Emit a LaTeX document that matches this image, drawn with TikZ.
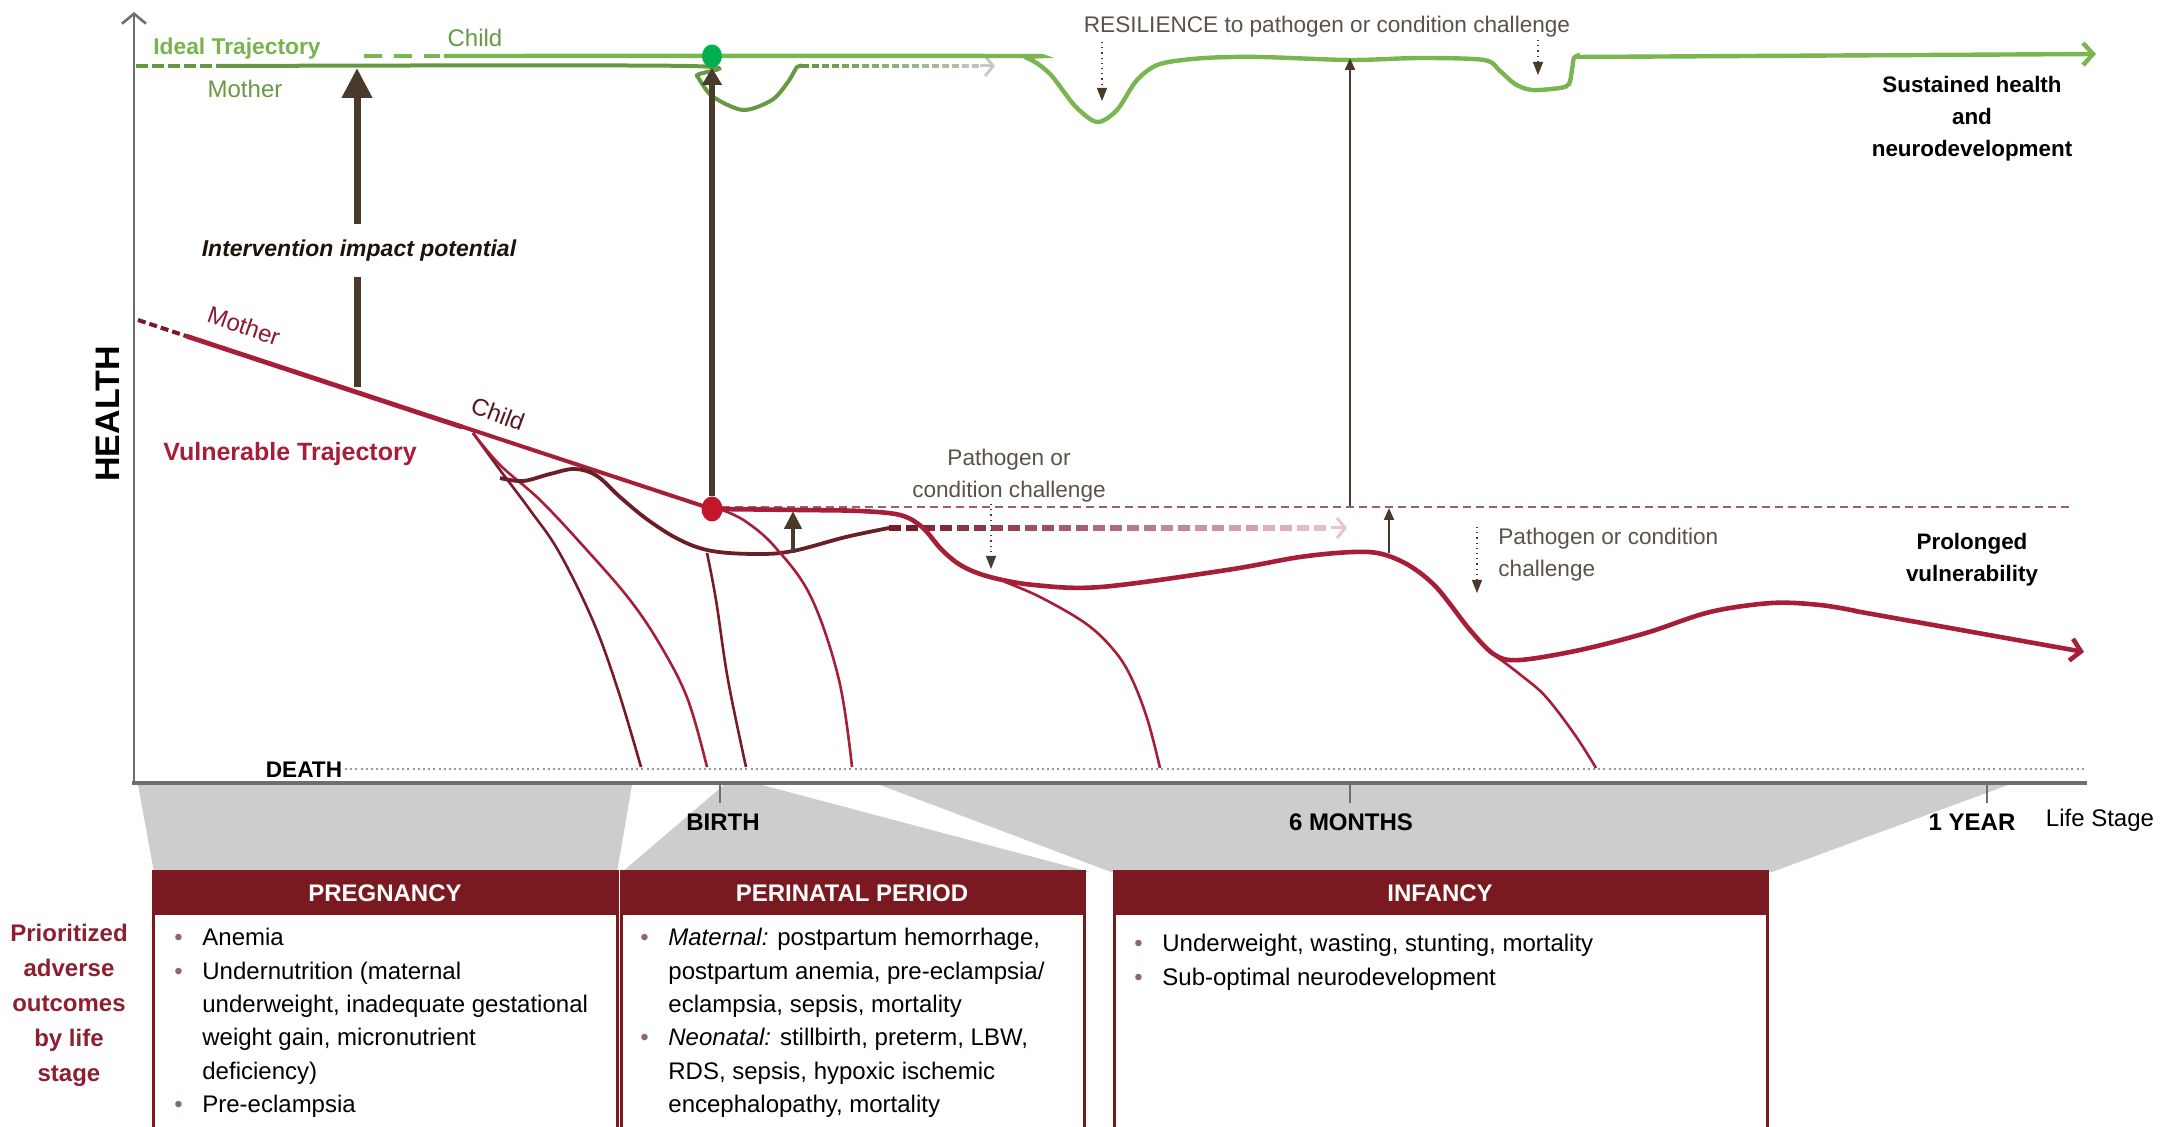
\documentclass[tikz,border=0pt]{standalone}
\usepackage{fontspec}
\setmainfont{Liberation Sans}
\usetikzlibrary{arrows.meta,shapes.geometric}
\definecolor{ideal}{HTML}{7AB551}
\definecolor{idealm}{HTML}{659A43}
\definecolor{idealtxt}{HTML}{78B34E}
\definecolor{vuln}{HTML}{A61E38}
\definecolor{vulndark}{HTML}{7A1A28}
\definecolor{wavy}{HTML}{6A1E28}
\definecolor{hdr}{HTML}{7A1A20}
\definecolor{arrowbrown}{HTML}{4A3A2C}
\definecolor{annot}{HTML}{5A5248}
\definecolor{funnel}{HTML}{CDCDCD}
\definecolor{axisgray}{HTML}{6E6E6E}
\definecolor{mauve}{HTML}{9E5E6A}
\definecolor{labelred}{HTML}{8C1F30}
\definecolor{greendot}{HTML}{00B050}
\definecolor{reddot}{HTML}{C4172C}
\definecolor{fadepink}{HTML}{EDC3CA}
\definecolor{fadegray}{HTML}{C8C8C8}
\definecolor{bulletc}{HTML}{8A6A6A}
\newcommand{\bul}{\makebox[14pt][l]{\textcolor{bulletc}{•}}}
\newcommand{\ind}{\hspace*{14pt}}
\begin{document}
\begin{tikzpicture}[x=0.5pt,y=-0.5pt,
  txt/.style={inner sep=0pt, font=\fontsize{12}{14}\selectfont},
  btxt/.style={inner sep=0pt, font=\fontsize{12}{14}\selectfont\bfseries},
  annotxt/.style={inner sep=0pt, text=annot, font=\fontsize{11.3}{16}\selectfont},
  outcome/.style={inner sep=0pt, text=black, font=\fontsize{11.2}{16}\selectfont\bfseries, align=center},
  bodytxt/.style={inner sep=0pt, anchor=north west, font=\fontsize{12}{16.67}\selectfont},
  hdrtxt/.style={inner sep=0pt, text=white, font=\fontsize{12}{14}\selectfont\bfseries},
  stagebox/.style={draw=hdr, line width=1.5pt},
  vline/.style={vuln, line width=1.3pt},
  vbranch/.style={vulndark, line width=1.3pt},
  dotarrow/.style={arrowbrown, line width=0.6pt, dotted, -{Triangle[length=6.5pt,width=5pt]}},
  thinarrow/.style={arrowbrown, line width=1pt, -{Triangle[length=6pt,width=5pt]}},
]
\useasboundingbox (0,0) rectangle (2164,1127);

% ---------- funnels ----------
\fill[funnel] (138,785) -- (632,785) -- (617,872) -- (154,872) -- cycle;
\fill[funnel] (724,785) -- (762,785) -- (1090,872) -- (622,872) -- cycle;
\fill[funnel] (880,785) -- (2008,785) -- (1772,872) -- (1111,872) -- cycle;

% ---------- axes ----------
\draw[axisgray, line width=2pt] (132,783) -- (2087,783);
\draw[axisgray, line width=1.3pt, -{Straight Barb[length=5pt,width=12pt]}] (134,783) -- (134,12);
\foreach \tx in {720,1350,1987} \draw[axisgray, line width=1pt] (\tx,784) -- (\tx,803);
\node[btxt] (birth) at (723,822) {BIRTH};
\node[btxt] (sixm) at (1351,822) {6 MONTHS};
\node[btxt] (oney) at (1972,822) {1 YEAR};
\node[txt] (lifestage) at (2100,820) {Life Stage};
\node[inner sep=0pt, font=\fontsize{17}{20}\selectfont\bfseries, rotate=90] (health) at (108,414) {HEALTH};

% ---------- death line ----------
\node[inner sep=0pt, font=\fontsize{11.3}{14}\selectfont\bfseries] (death) at (304,770) {DEATH};
\draw[black!40, line width=1pt, dash pattern=on 1pt off 1.6pt] (345,769) -- (2084,769);

% ---------- vulnerable trajectory ----------
\draw[vulndark, line width=2pt, dash pattern=on 4pt off 2pt] (138,320) -- (186,336);
\draw[vuln, line width=2.4pt] (186,336) -- (462,427);
\draw[vuln, line width=2pt] (445,421) -- (712,509);
% early branches
\draw[vbranch] plot[smooth, tension=0.6] coordinates {(473,433) (500,470) (530,510) (559,552) (593,621) (618,690) (641,767)};
\draw[vline] plot[smooth, tension=0.6] coordinates {(473,433) (500,465) (540,500) (585,548) (630,600) (662,648) (688,700) (707,767)};
% dark wavy child line
\draw[wavy, line width=1.9pt] plot[smooth, tension=0.6] coordinates {(500,478) (523,481) (550,474) (575,469) (597,476) (620,497) (648,520) (680,540) (712,551) (757,554) (793,551) (846,537) (889,528)};
\draw[vbranch] plot[smooth, tension=0.6] coordinates {(707,553) (716,600) (728,680) (746,767)};
\draw[vline] plot[smooth, tension=0.6] coordinates {(722,510) (745,521) (775,547) (811,597) (839,680) (852,767)};
% thin mauve dashed reference
\draw[mauve, line width=0.9pt, dash pattern=on 4pt off 2.5pt] (722,507) -- (2074,507);
% thick fading dashed
\foreach \i in {0,...,12}{
  \pgfmathtruncatemacro\pct{100-\i*8}
  \draw[line width=2.7pt, dash pattern=on 6pt off 2.5pt, vulndark!\pct!fadepink] (889+\i*34,528) -- ++(34,0);
}
\draw[fadepink, line width=1.5pt, -{Straight Barb[length=4pt,width=10pt]}] (1331,528) -- (1347,528);
% main vulnerable curve
\draw[vuln, line width=2.3pt] plot[smooth, tension=0.55] coordinates {(712,509) (800,510) (860,511) (900,515) (922,527) (942,550) (962,566) (990,577) (1034,585) (1101,587) (1227,570) (1300,557) (1353,552) (1382,554) (1410,566) (1437,588) (1470,630) (1495,655) (1520,660) (1580,650) (1646,633) (1710,612) (1772,603) (1820,605) (1856,611)};
\draw[vuln, line width=2.3pt, -{Straight Barb[length=5pt,width=11pt]}] (1855,611) -- (2084,652);
\draw[vline] plot[smooth, tension=0.6] coordinates {(1005,582) (1040,597) (1085,623) (1112,648) (1130,675) (1147,718) (1160,768)};
\draw[vline] plot[smooth, tension=0.6] coordinates {(1497,657) (1522,676) (1546,697) (1575,735) (1596,768)};

% ---------- ideal trajectory ----------
\draw[idealm, line width=2pt, dash pattern=on 6pt off 2pt] (136,66) -- (218,66);
\draw[idealm, line width=2pt] plot[smooth, tension=0.5] coordinates {(218,66) (688,66) (697,76) (712,96) (743,110) (772,100) (788,82) (797,67) (802,66)};
\foreach \i in {0,...,8}{
  \pgfmathtruncatemacro\pct{100-\i*11}
  \draw[line width=2pt, dash pattern=on 3.5pt off 1.5pt, idealm!\pct!fadegray] (802+\i*20,66) -- ++(20,0);
}
\draw[fadegray, line width=1.5pt, -{Straight Barb[length=4pt,width=10pt]}] (980,66) -- (995,66);
\draw[ideal, line width=2.2pt, dash pattern=on 9pt off 6pt] (364,56) -- (440,56);
\draw[ideal, line width=2.2pt] plot[smooth, tension=0.5] coordinates {(444,56) (1000,56) (1027,58) (1050,74) (1075,106) (1097,122) (1117,110) (1137,80) (1160,64) (1205,58) (1260,57) (1350,60) (1420,58) (1484,60) (1500,71) (1515,84) (1532,90) (1560,88) (1569,84) (1572,70) (1574,58) (1580,55)};
\draw[ideal, line width=2.2pt, -{Straight Barb[length=5pt,width=11pt]}] (1577,57) -- (2096,54);

% ---------- labels on trajectories ----------
\node[inner sep=0pt, text=idealtxt, font=\fontsize{11.4}{14}\selectfont\bfseries] (idealtraj) at (237,49) {Ideal Trajectory};
\node[txt, text=idealm] (gmother) at (245,89) {Mother};
\node[txt, text=idealm] (gchild) at (475,38) {Child};
\node[txt, text=vuln!85!black, rotate=-19] (rmother) at (244,326) {Mother};
\node[txt, text=wavy!80!black, rotate=-20] (rchild) at (498,414) {Child};
\node[inner sep=0pt, text=vuln, font=\fontsize{12.5}{14}\selectfont\bfseries] (vulntraj) at (290,454) {Vulnerable Trajectory};

% ---------- intervention arrows ----------
\coordinate (ivbase) at (357,387);
\coordinate (ivtip) at (357,68);
\draw[arrowbrown, line width=3.5pt, -{Triangle[length=15pt,width=14.5pt]}] (ivbase) -- (ivtip);
\node[fill=white, minimum width=159.5pt, minimum height=26.5pt, inner sep=0pt, text=black!85!brown, font=\fontsize{11.5}{14}\selectfont\bfseries\itshape] (ivlabel) at (359,251) {Intervention impact potential};

\node[fill=greendot, ellipse, minimum width=10pt, minimum height=11.5pt, inner sep=0pt] (gdot) at (712,56) {};
\node[fill=reddot, ellipse, minimum width=10.5pt, minimum height=12.5pt, inner sep=0pt] (rdot) at (712,509) {};
\draw[arrowbrown, line width=3pt, -{Triangle[length=8.5pt,width=9.5pt]}] (rdot) -- (gdot);

\coordinate (smbase) at (793,553);
\coordinate (smtip) at (793,511);
\draw[arrowbrown, line width=2.2pt, -{Triangle[length=9pt,width=8.5pt]}] (smbase) -- (smtip);

\coordinate (sixbase) at (1350,506);
\coordinate (sixtip) at (1350,58);
\draw[thinarrow] (sixbase) -- (sixtip);
\coordinate (s2base) at (1389,553);
\coordinate (s2tip) at (1389,508);
\draw[thinarrow] (s2base) -- (s2tip);

% ---------- challenge annotations ----------
\node[annotxt] (resil) at (1327,27) {RESILIENCE to pathogen or condition challenge};
\coordinate (r1a) at (1102,42); \coordinate (r1b) at (1102,101);
\coordinate (r2a) at (1538,40); \coordinate (r2b) at (1538,75);
\draw[dotarrow] (r1a) -- (r1b);
\draw[dotarrow] (r2a) -- (r2b);
\node[annotxt, align=center] (path1) at (1009,476) {Pathogen or\\condition challenge};
\coordinate (p1a) at (991,504); \coordinate (p1b) at (991,569);
\draw[dotarrow] (p1a) -- (p1b);
\node[annotxt, align=left, anchor=west] (path2) at (1498,555) {Pathogen or condition\\challenge};
\coordinate (p2a) at (1477,527); \coordinate (p2b) at (1477,593);
\draw[dotarrow] (p2a) -- (p2b);

\node[outcome] (sustained) at (1972,119) {Sustained health\\and\\neurodevelopment};
\node[outcome] (prolonged) at (1972,560) {Prolonged\\vulnerability};

% ---------- stage boxes ----------
\fill[hdr] (153,872) rectangle (617,915);
\draw[stagebox] (153,872) rectangle (617,1140);
\fill[hdr] (621,872) rectangle (1084,915);
\draw[stagebox] (621,872) rectangle (1084,1140);
\fill[hdr] (1114,872) rectangle (1767,915);
\draw[stagebox] (1114,872) rectangle (1767,1140);
\node[hdrtxt] (hpreg) at (385,893) {PREGNANCY};
\node[hdrtxt] (hperi) at (852,893) {PERINATAL PERIOD};
\node[hdrtxt] (hinf) at (1440,893) {INFANCY};

\node[bodytxt] (tpreg) at (174,922) {\begin{tabular}{@{}l@{}}
\bul Anemia\\
\bul Undernutrition (maternal\\
\ind underweight, inadequate gestational\\
\ind weight gain, micronutrient\\
\ind deficiency)\\
\bul Pre-eclampsia
\end{tabular}};
\node[bodytxt] (tperi) at (640,922) {\begin{tabular}{@{}l@{}}
\bul \textit{Maternal:} postpartum hemorrhage,\\
\ind postpartum anemia, pre-eclampsia/\\
\ind eclampsia, sepsis, mortality\\
\bul \textit{Neonatal:} stillbirth, preterm, LBW,\\
\ind RDS, sepsis, hypoxic ischemic\\
\ind encephalopathy, mortality
\end{tabular}};
\node[bodytxt] (tinf) at (1134,928) {\begin{tabular}{@{}l@{}}
\bul Underweight, wasting, stunting, mortality\\
\bul Sub-optimal neurodevelopment
\end{tabular}};

\node[inner sep=0pt, text=labelred, align=center, font=\fontsize{12}{17.5}\selectfont\bfseries] (prio) at (69,1005) {Prioritized\\adverse\\outcomes\\by life\\stage};
\end{tikzpicture}
\end{document}
